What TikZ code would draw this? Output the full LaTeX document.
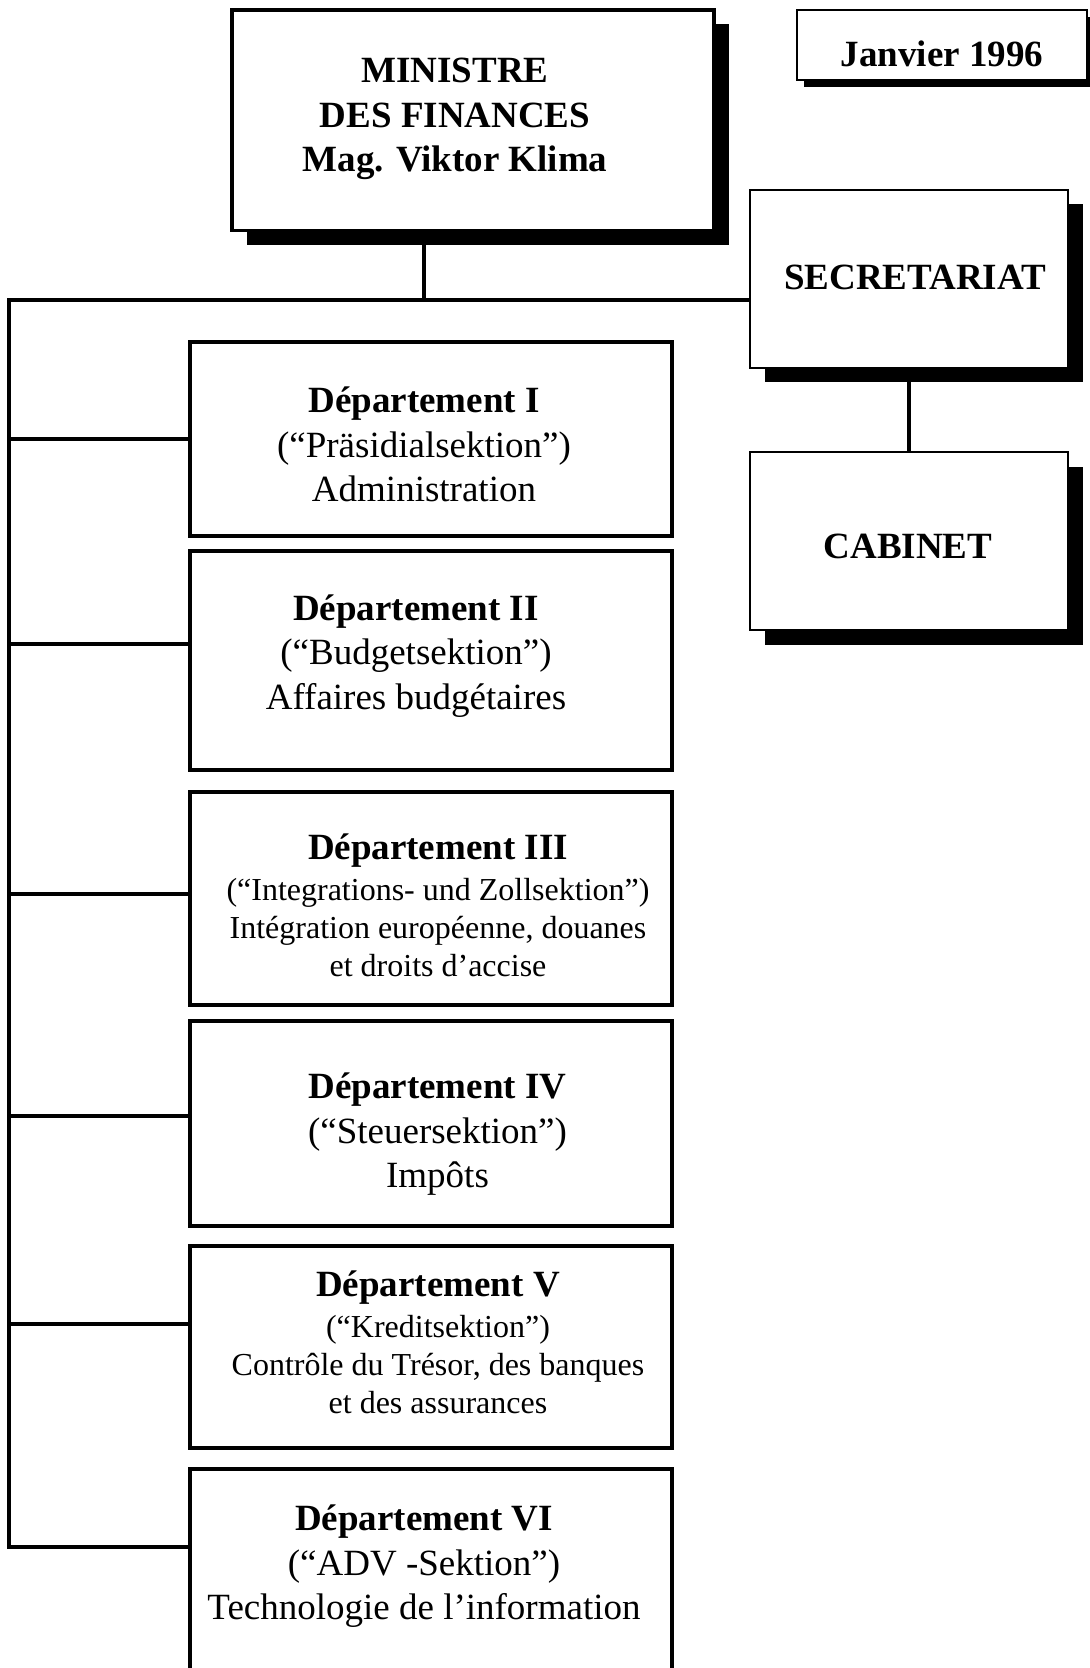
\documentclass[tikz,border=0pt]{standalone}
\usepackage{fontspec}
\setmainfont{Liberation Serif}
\usetikzlibrary{shadows}
\newcommand{\grand}{\fontsize{18.5}{22.3}\selectfont}
\newcommand{\petit}{\fontsize{16}{19}\selectfont}

\begin{document}
\begin{tikzpicture}[x=0.5pt,y=-0.5pt,
		boite/.style={draw, fill=white, inner sep=0pt, line width=1pt,
			general shadow={fill=black, shadow xshift=#1, shadow yshift=-#1}},
		boite/.default=7.25pt,
		dept/.style={draw, fill=white, line width=2pt, inner sep=0pt, minimum width=241pt},
		texte/.style={align=center, inner sep=0pt, font=\grand},
		lien/.style={line width=2pt}]
	\useasboundingbox (0,0) rectangle (1090,1668);

	% Cadres du haut
	\node[boite, line width=1.75pt, minimum width=241pt, minimum height=110.25pt] (min) at (473,120.25) {};	% Ministre
	\node[boite=3.5pt, line width=0.7pt, minimum width=145pt, minimum height=35pt] (jan) at (942,45) {};		% Date
	\node[boite, minimum width=159pt, minimum height=89pt] (sec) at (909,278.7) {};							% Secretariat
	\node[boite, minimum width=159pt, minimum height=89pt] (cab) at (909,541) {};								% Cabinet

	\node[texte, font=\grand\bfseries] (mintxt) at (455,119.2) {MINISTRE\\DES FINANCES\\Mag. Viktor Klima};
	\node[texte, font=\grand\bfseries] (jantxt) at (942,54) {Janvier 1996};
	\node[texte, font=\grand\bfseries] (sectxt) at (915,277.5) {SECRETARIAT};
	\node[texte, font=\grand\bfseries] (cabtxt) at (908,546.3) {CABINET};

	% Departements
	\node[dept, minimum height=96.5pt]  (d1) at (431,439)    {};
	\node[dept, minimum height=109.5pt] (d2) at (431,660.5)  {};
	\node[dept, minimum height=106.5pt] (d3) at (431,898.5)  {};
	\node[dept, minimum height=102.5pt] (d4) at (431,1123.5) {};
	\node[dept, minimum height=101pt]   (d5) at (431,1347)   {};
	\node[dept, minimum height=115.5pt] (d6) at (431,1584.5) {};

	\node[texte] (d1txt) at (424,444.5) {\textbf{Département I}\\(“Präsidialsektion”)\\Administration};
	\node[texte] (d2txt) at (416,655.8) {\textbf{Département II}\\(“Budgetsektion”)\\Affaires budgétaires};
	\node[texte, font=\petit] (d3txt) at (438,905.3) {{\grand\bfseries Département III}\\[1.5pt](“Integrations- und Zollsektion”)\\Intégration européenne, douanes\\et droits d’accise};
	\node[texte] (d4txt) at (437.5,1134.4) {\textbf{Département IV}\\(“Steuersektion”)\\Impôts};
	\node[texte, font=\petit] (d5txt) at (438,1342.4) {{\grand\bfseries Département V}\\[1.5pt](“Kreditsektion”)\\Contrôle du Trésor, des banques\\et des assurances};
	\node[texte] (d6txt) at (424,1566.3) {\textbf{Département VI}\\(“ADV -Sektion”)\\Technologie de l’information};

	% Liaisons
	\coordinate (haut) at (9.2,299.7);
	\coordinate (mpied) at (424,299.7);
	\coordinate (b1) at (9.2,438.7);
	\coordinate (b2) at (9.2,644.4);
	\coordinate (b3) at (9.2,894.3);
	\coordinate (b4) at (9.2,1115.5);
	\coordinate (b5) at (9.2,1324);
	\coordinate (b6) at (9.2,1547);

	\draw[lien] (mpied |- min.south) -- (mpied);
	\draw[lien] (sec.west |- haut) -- (haut) -- (b6) -- (b6 -| d6.west);
	\draw[lien] (b1) -- (b1 -| d1.west);
	\draw[lien] (b2) -- (b2 -| d2.west);
	\draw[lien] (b3) -- (b3 -| d3.west);
	\draw[lien] (b4) -- (b4 -| d4.west);
	\draw[lien] (b5) -- (b5 -| d5.west);
	\draw[lien] (sec.south) -- (cab.north);
\end{tikzpicture}
\end{document}
